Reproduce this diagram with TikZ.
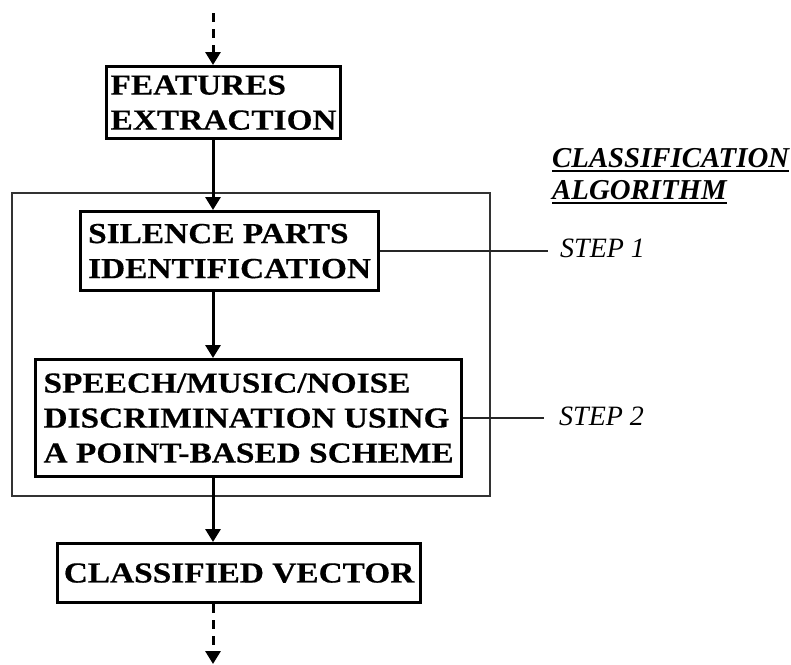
\documentclass[tikz,border=0pt]{standalone}
\usepackage{fontspec}
\setmainfont{Liberation Serif}
\newfontfamily\boxfont[FakeStretch=1.15,FakeBold=0.4]{Liberation Serif}
\usetikzlibrary{arrows.meta}
\begin{document}
\begin{tikzpicture}[x=1pt,y=-1pt,
  stage/.style={draw, line width=3.2pt, rectangle, inner sep=0pt, align=left,
    font=\boxfont\bfseries\fontsize{29}{35}\selectfont, anchor=north west},
  flow/.style={line width=3pt, -{Triangle[length=13pt,width=15pt]}},
  dflow/.style={flow, dash pattern=on 9pt off 7pt},
  tick/.style={line width=1.6pt, draw=black!85},
  frame/.style={draw=black!80, line width=1.6pt, inner sep=0pt, anchor=north west},
  steplabel/.style={font=\itshape\fontsize{28}{32}\selectfont, inner sep=0pt, anchor=base west},
  titleline/.style={font=\bfseries\itshape\fontsize{28.8}{32}\selectfont, inner sep=0pt, anchor=base west}]

\useasboundingbox (0,0) rectangle (791,664);

% enclosing frame of the classification algorithm
\node[frame, minimum width=478pt, minimum height=303pt] (alg) at (11,192) {};

% processing stages
\node[stage, minimum width=234pt, minimum height=72pt] (feat) at (105,65) {FEATURES\\EXTRACTION};
\node[stage, minimum width=298pt, minimum height=79pt] (sil) at (79,210) {SILENCE PARTS\\IDENTIFICATION};
\node[stage, minimum width=426pt, minimum height=117pt] (disc) at (34,358) {SPEECH/MUSIC/NOISE\\DISCRIMINATION USING\\A POINT-BASED SCHEME};
\node[stage, minimum width=363pt, minimum height=59pt] (cv) at (56,542) {CLASSIFIED VECTOR};

% title
\node[titleline] (t1) at (552,167) {CLASSIFICATION};
\node[titleline] (t2) at (552,199) {ALGORITHM};
\draw[line width=2.5pt] ([yshift=-4pt]t1.base west) -- ([yshift=-4pt]t1.base east);
\draw[line width=2.5pt] ([yshift=-4pt]t2.base west) -- ([yshift=-4pt]t2.base east);

% step labels
\node[steplabel] (s1) at (560,257) {STEP 1};
\node[steplabel] (s2) at (559,425) {STEP 2};
\draw[tick] (sil.east) -- ([xshift=-12pt]s1.west |- sil.east);
\draw[tick] (disc.east) -- ([xshift=-15pt]s2.west |- disc.east);

% flow arrows
\coordinate (in) at (213,13);
\coordinate (out) at (213,664);
\draw[dflow] (in) -- (feat.north -| in);
\draw[flow] (feat.south -| in) -- (sil.north -| in);
\draw[flow] (sil.south -| in) -- (disc.north -| in);
\draw[flow] (disc.south -| in) -- (cv.north -| in);
\draw[dflow] (cv.south -| out) -- (out);
\end{tikzpicture}
\end{document}
